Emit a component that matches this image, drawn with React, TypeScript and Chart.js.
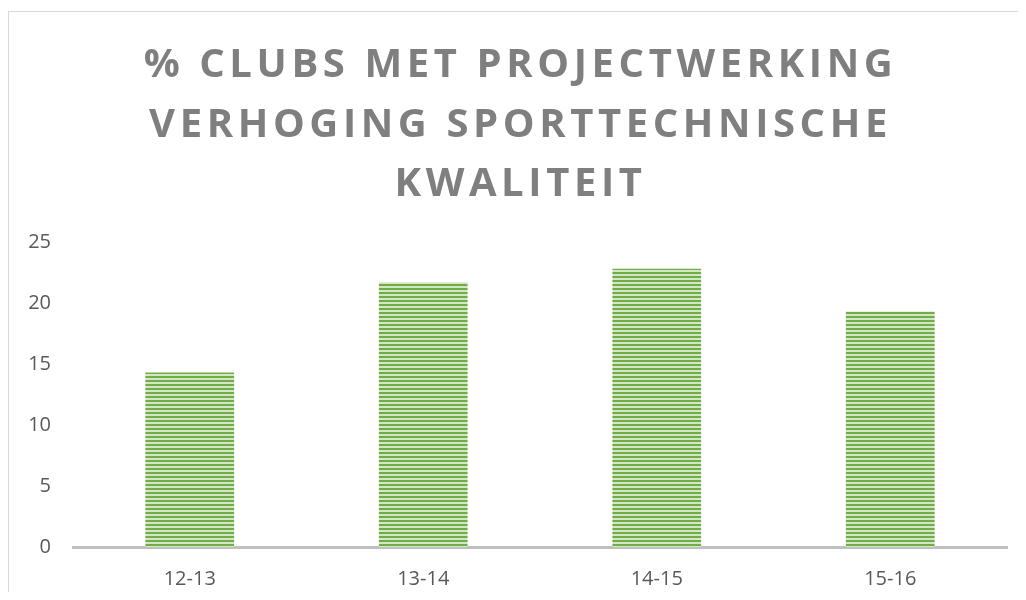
import React, { useEffect, useRef } from "react";
import { Chart, registerables } from "chart.js";

Chart.register(...registerables);

const TITLE_LINES = ["% CLUBS MET PROJECTWERKING", "VERHOGING SPORTTECHNISCHE", "KWALITEIT"];
const CATEGORIES = ["12-13", "13-14", "14-15", "15-16"];
const VALUES = [14.3, 21.7, 22.8, 19.3];
const Y_MIN = 0;
const Y_MAX = 25;
const Y_STEP = 5;

function makePattern(): CanvasPattern | string {
  const c = document.createElement("canvas");
  c.width = 4;
  c.height = 4;
  const g = c.getContext("2d");
  if (!g) return "#70AD47";
  g.fillStyle = "#70AD47";
  g.fillRect(0, 0, 4, 2);
  g.fillStyle = "#d3e7c5";
  g.fillRect(0, 2, 4, 2);
  const p = g.createPattern(c, "repeat");
  return p || "#70AD47";
}

const titlePlugin = {
  id: "spacedTitle",
  afterDraw(chart: any) {
    const ctx = chart.ctx as CanvasRenderingContext2D;
    ctx.save();
    ctx.fillStyle = "#7f7f7f";
    ctx.font = "700 40px 'Open Sans'";
    (ctx as any).letterSpacing = "4.6px";
    ctx.textAlign = "center";
    ctx.textBaseline = "alphabetic";
    const cx = chart.width / 2 + 3;
    TITLE_LINES.forEach((line, i) => {
      ctx.fillText(line, cx, 65 + i * 59.7);
    });
    ctx.restore();
  },
};

export default function App() {
  const ref = useRef<HTMLCanvasElement | null>(null);
  useEffect(() => {
    if (!ref.current) return;
    const chart = new Chart(ref.current, {
      type: "bar",
      data: {
        labels: CATEGORIES,
        datasets: [
          {
            data: VALUES,
            backgroundColor: makePattern() as any,
            borderWidth: 0,
            barPercentage: 0.38,
            categoryPercentage: 1,
          },
        ],
      },
      options: {
        animation: false,
        responsive: false,
        maintainAspectRatio: false,
        layout: { padding: { top: 230, left: 0, right: 19, bottom: 0 } },
        plugins: {
          legend: { display: false },
          title: { display: false },
          tooltip: { enabled: false },
        },
        scales: {
          x: {
            grid: { display: false },
            border: { display: true, color: "#bfbfbf", width: 3 },
            ticks: {
              color: "#595959",
              font: { family: "'Open Sans'", size: 20 },
              padding: 12,
            },
            afterFit: (s: any) => {
              s.height = 45;
            },
          },
          y: {
            min: Y_MIN,
            max: Y_MAX,
            grid: { display: false },
            border: { display: false },
            ticks: {
              stepSize: Y_STEP,
              color: "#595959",
              font: { family: "'Open Sans'", size: 20 },
              padding: 14,
            },
            afterFit: (s: any) => {
              s.width = 64;
            },
          },
        },
      },
      plugins: [titlePlugin],
    });
    return () => chart.destroy();
  }, []);
  return (
    <div
      style={{
        marginTop: 3,
        width: 1018,
        height: 581,
        borderTop: "1px solid #d9d9d9",
        borderLeft: "1px solid #d9d9d9",
        boxSizing: "border-box",
        overflow: "hidden",
      }}
    >
      <canvas ref={ref} width={1017} height={580} style={{ display: "block" }} />
    </div>
  );
}
